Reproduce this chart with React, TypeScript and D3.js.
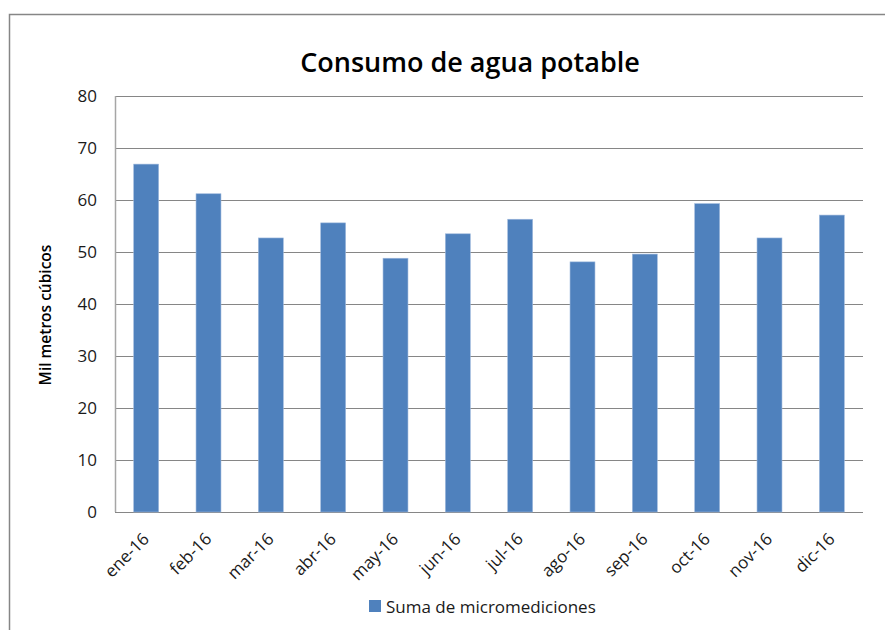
import React, { useRef, useEffect } from 'react';
import * as d3 from 'd3';

const months = ['ene-16', 'feb-16', 'mar-16', 'abr-16', 'may-16', 'jun-16', 'jul-16', 'ago-16', 'sep-16', 'oct-16', 'nov-16', 'dic-16'];
const consumo = [66.9, 61.2, 52.7, 55.6, 48.8, 53.5, 56.3, 48.1, 49.6, 59.3, 52.7, 57.1];
const yTicks = [0, 10, 20, 30, 40, 50, 60, 70, 80];
const seriesName = 'Suma de micromediciones';

const App: React.FC = () => {
  const svgRef = useRef<SVGSVGElement>(null);

  useEffect(() => {
    const svg = d3.select(svgRef.current);
    svg.selectAll('*').remove();

    const font = "'Open Sans', sans-serif";
    const margin = { top: 96, right: 22, bottom: 118, left: 115 };
    const W = 885, H = 630;
    const width = W - margin.left - margin.right;
    const height = H - margin.top - margin.bottom;

    // chart frame (only top and left visible in the reference)
    svg.append('path')
      .attr('d', `M9.5,${H} V14.5 H${W}`)
      .attr('fill', 'none')
      .attr('stroke', '#868686')
      .attr('stroke-width', 1.5);

    svg.append('text')
      .attr('x', 470)
      .attr('y', 72)
      .attr('text-anchor', 'middle')
      .attr('font-family', font)
      .attr('font-weight', 600)
      .attr('font-size', '27px')
      .text('Consumo de agua potable');

    const g = svg.append('g').attr('transform', `translate(${margin.left},${margin.top})`);

    const x = d3.scaleBand().domain(months).range([0, width]).paddingInner(0.6).paddingOuter(0.3);
    const y = d3.scaleLinear().domain([0, 80]).range([height, 0]);

    g.selectAll('line.grid')
      .data(yTicks)
      .join('line')
      .attr('class', 'grid')
      .attr('x1', 0)
      .attr('x2', width)
      .attr('y1', d => Math.round(y(d)) + 0.5)
      .attr('y2', d => Math.round(y(d)) + 0.5)
      .attr('stroke', '#868686')
      .attr('stroke-width', 1);

    g.selectAll('rect.bar')
      .data(consumo)
      .join('rect')
      .attr('class', 'bar')
      .attr('x', (d, i) => x(months[i])!)
      .attr('y', d => y(d))
      .attr('width', x.bandwidth())
      .attr('height', d => height - y(d))
      .attr('fill', '#4F81BD')
      .attr('stroke', '#9DB8DC')
      .attr('stroke-width', 0.6);

    g.append('line')
      .attr('x1', 0.5).attr('x2', 0.5)
      .attr('y1', 0).attr('y2', height)
      .attr('stroke', '#A6A6A6')
      .attr('stroke-width', 1.5);

    g.selectAll('text.ytick')
      .data(yTicks)
      .join('text')
      .attr('class', 'ytick')
      .attr('x', -18)
      .attr('y', d => y(d) + 6)
      .attr('text-anchor', 'end')
      .attr('font-family', font)
      .attr('font-size', '17px')
      .attr('fill', '#1a1a1a')
      .text(d => d);

    g.selectAll('text.xtick')
      .data(months)
      .join('text')
      .attr('class', 'xtick')
      .attr('text-anchor', 'end')
      .attr('font-family', font)
      .attr('font-size', '17px')
      .attr('fill', '#1a1a1a')
      .attr('transform', d => `translate(${x(d)! + x.bandwidth() / 2 + 4},${height + 28}) rotate(-45)`)
      .text(d => d);

    svg.append('text')
      .attr('transform', `translate(51,315) rotate(-90)`)
      .attr('text-anchor', 'middle')
      .attr('font-family', font)
      .attr('font-weight', 600)
      .attr('font-size', '15.5px')
      .text('Mil metros cúbicos');

    const legend = svg.append('g').attr('transform', 'translate(369,600)');
    legend.append('rect')
      .attr('width', 12)
      .attr('height', 12)
      .attr('fill', '#4F81BD');
    legend.append('text')
      .attr('x', 17)
      .attr('y', 12.5)
      .attr('font-family', font)
      .attr('font-size', '17px')
      .attr('fill', '#1a1a1a')
      .text(seriesName);
  }, []);

  return (
    <div style={{ position: 'absolute', left: 0, top: 0 }}>
      <svg ref={svgRef} width={885} height={630} style={{ display: 'block', background: '#fff' }} />
    </div>
  );
};

export default App;
